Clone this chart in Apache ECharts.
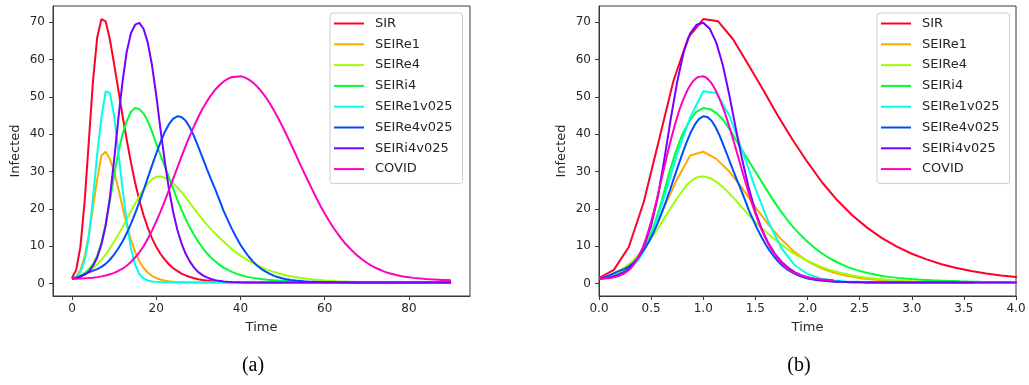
<!DOCTYPE html>
<html>
<head>
<meta charset="utf-8">
<title>Infected over time</title>
<script src="https://cdn.jsdelivr.net/npm/echarts@6/dist/echarts.min.js"></script>
<style>
  html, body { margin: 0; padding: 0; background: #ffffff; }
  #chart { width: 1029px; height: 385px; }
</style>
</head>
<body>
<div id="chart"></div>
<script>
// Daily samples, day 0 .. day 90
const days = Array.from({ length: 91 }, (_, i) => i);

const seriesNames = ['SIR', 'SEIRe1', 'SEIRe4', 'SEIRi4', 'SEIRe1v025', 'SEIRe4v025', 'SEIRi4v025', 'COVID'];
const seriesColors = ['#ff0029', '#ffaa00', '#9dff05', '#00ff32', '#00ffeb', '#004dff', '#7800ff', '#ff00bf'];
// day of each model's peak, used to rescale time in panel (b)
const peakDay = [7, 8, 21, 15, 8, 25, 16, 40];

const sir = [
  1.5, 3.7, 9.8, 21.8, 38, 54.3, 65.9, 70.8, 70.2, 65.4,
  58.8, 52, 45, 38.5, 32.5, 27, 22.3, 18.3, 15, 12.2,
  9.9, 8, 6.5, 5.2, 4.2, 3.4, 2.7, 2.2, 1.8, 1.45,
  1.2, 0.98, 0.82, 0.69, 0.59, 0.51, 0.45, 0.41, 0.38, 0.36,
  0.34, 0.33, 0.32, 0.31, 0.3, 0.3, 0.3, 0.3, 0.3, 0.3,
  0.3, 0.3, 0.3, 0.3, 0.3, 0.3, 0.3, 0.3, 0.3, 0.3,
  0.3, 0.3, 0.3, 0.3, 0.3, 0.3, 0.3, 0.3, 0.3, 0.3,
  0.3, 0.3, 0.3, 0.3, 0.3, 0.3, 0.3, 0.3, 0.3, 0.3,
  0.3, 0.3, 0.3, 0.3, 0.3, 0.3, 0.3, 0.3, 0.3, 0.3,
  0.3
];
const seire1 = [
  1.3, 1.9, 3.6, 7.2, 13, 20.5, 28, 34.3, 35.3, 33.4,
  30, 25.5, 20.5, 15.8, 11.8, 8.5, 6, 4.2, 3, 2.1,
  1.5, 1.1, 0.85, 0.65, 0.52, 0.44, 0.39, 0.36, 0.34, 0.33,
  0.32, 0.31, 0.3, 0.3, 0.3, 0.3, 0.3, 0.3, 0.3, 0.3,
  0.3, 0.3, 0.3, 0.3, 0.3, 0.3, 0.3, 0.3, 0.3, 0.3,
  0.3, 0.3, 0.3, 0.3, 0.3, 0.3, 0.3, 0.3, 0.3, 0.3,
  0.3, 0.3, 0.3, 0.3, 0.3, 0.3, 0.3, 0.3, 0.3, 0.3,
  0.3, 0.3, 0.3, 0.3, 0.3, 0.3, 0.3, 0.3, 0.3, 0.3,
  0.3, 0.3, 0.3, 0.3, 0.3, 0.3, 0.3, 0.3, 0.3, 0.3,
  0.3
];
const seire4 = [
  1.3, 1.6, 2.1, 2.7, 3.4, 4.2, 5.2, 6.4, 7.8, 9.4,
  11.2, 13.1, 15.1, 17.2, 19.3, 21.4, 23.4, 25.2, 26.8, 27.9,
  28.6, 28.7, 28.4, 27.8, 26.9, 25.8, 24.5, 23.1, 21.6, 20.1,
  18.6, 17.2, 15.8, 14.6, 13.4, 12.3, 11.3, 10.2, 9.2, 8.3,
  7.5, 6.8, 6.1, 5.5, 4.9, 4.4, 3.9, 3.5, 3.1, 2.8,
  2.5, 2.2, 2.0, 1.8, 1.6, 1.45, 1.3, 1.17, 1.05, 0.95,
  0.85, 0.78, 0.7, 0.64, 0.59, 0.55, 0.51, 0.48, 0.45, 0.42,
  0.4, 0.38, 0.37, 0.36, 0.35, 0.34, 0.33, 0.33, 0.32, 0.32,
  0.31, 0.31, 0.31, 0.3, 0.3, 0.3, 0.3, 0.3, 0.3, 0.3,
  0.3
];
const seiri4 = [
  1.3, 1.6, 2.1, 2.8, 3.8, 5.2, 7.5, 11, 16, 22,
  29, 35, 40, 43.5, 46, 47, 46.7, 45.5, 43.5, 40.7,
  37.5, 34.5, 31.5, 28.5, 25.5, 22.5, 19.8, 17.3, 15, 13,
  11.2, 9.6, 8.2, 7, 6, 5.1, 4.3, 3.7, 3.15, 2.7,
  2.3, 2.0, 1.75, 1.55, 1.38, 1.23, 1.1, 1.0, 0.9, 0.82,
  0.75, 0.69, 0.63, 0.58, 0.54, 0.5, 0.47, 0.45, 0.43, 0.41,
  0.39, 0.38, 0.37, 0.36, 0.35, 0.34, 0.33, 0.32, 0.32, 0.31,
  0.31, 0.31, 0.3, 0.3, 0.3, 0.3, 0.3, 0.3, 0.3, 0.3,
  0.3, 0.3, 0.3, 0.3, 0.3, 0.3, 0.3, 0.3, 0.3, 0.3,
  0.3
];
const seire1v025 = [
  1.3, 1.8, 3.1, 6.2, 12.5, 23.1, 34.7, 44.5, 51.5, 51,
  45, 35.5, 25.5, 16.5, 9.5, 5, 2.6, 1.4, 0.85, 0.6,
  0.48, 0.42, 0.38, 0.36, 0.35, 0.34, 0.33, 0.32, 0.31, 0.3,
  0.3, 0.3, 0.3, 0.3, 0.3, 0.3, 0.3, 0.3, 0.3, 0.3,
  0.3, 0.3, 0.3, 0.3, 0.3, 0.3, 0.3, 0.3, 0.3, 0.3,
  0.3, 0.3, 0.3, 0.3, 0.3, 0.3, 0.3, 0.3, 0.3, 0.3,
  0.3, 0.3, 0.3, 0.3, 0.3, 0.3, 0.3, 0.3, 0.3, 0.3,
  0.3, 0.3, 0.3, 0.3, 0.3, 0.3, 0.3, 0.3, 0.3, 0.3,
  0.3, 0.3, 0.3, 0.3, 0.3, 0.3, 0.3, 0.3, 0.3, 0.3,
  0.3
];
const seire4v025 = [
  1.3, 1.6, 2.0, 2.5, 3.0, 3.5, 3.9, 4.5, 5.3, 6.4,
  7.8, 9.4, 11.3, 13.5, 16, 18.8, 21.8, 25, 28.3, 31.6,
  34.8, 37.8, 40.5, 42.6, 44.1, 44.8, 44.6, 43.6, 41.8, 39.4,
  36.6, 33.7, 30.8, 28, 25.3, 22.4, 19.5, 17, 14.6, 12.4,
  10.4, 8.7, 7.2, 5.9, 4.8, 3.9, 3.2, 2.6, 2.1, 1.7,
  1.4, 1.17, 0.99, 0.86, 0.76, 0.67, 0.6, 0.54, 0.49, 0.45,
  0.41, 0.39, 0.37, 0.35, 0.34, 0.33, 0.32, 0.31, 0.3, 0.3,
  0.3, 0.3, 0.3, 0.3, 0.3, 0.3, 0.3, 0.3, 0.3, 0.3,
  0.3, 0.3, 0.3, 0.3, 0.3, 0.3, 0.3, 0.3, 0.3, 0.3,
  0.3
];
const seiri4v025 = [
  1.3, 1.5, 1.8, 2.4, 3.2, 4.8, 7, 10.5, 15.5, 23,
  33, 44, 54, 62, 67, 69.3, 69.8, 68.2, 64.5, 58.5,
  50.5, 41.5, 33, 25.5, 19.3, 14.5, 10.8, 8, 5.9, 4.3,
  3.1, 2.3, 1.7, 1.25, 0.95, 0.75, 0.6, 0.5, 0.43, 0.39,
  0.36, 0.34, 0.33, 0.32, 0.31, 0.3, 0.3, 0.3, 0.3, 0.3,
  0.3, 0.3, 0.3, 0.3, 0.3, 0.3, 0.3, 0.3, 0.3, 0.3,
  0.3, 0.3, 0.3, 0.3, 0.3, 0.3, 0.3, 0.3, 0.3, 0.3,
  0.3, 0.3, 0.3, 0.3, 0.3, 0.3, 0.3, 0.3, 0.3, 0.3,
  0.3, 0.3, 0.3, 0.3, 0.3, 0.3, 0.3, 0.3, 0.3, 0.3,
  0.3
];
const covid = [
  1.3, 1.32, 1.36, 1.42, 1.5, 1.6, 1.75, 1.95, 2.2, 2.5,
  2.9, 3.4, 4.0, 4.8, 5.8, 7.0, 8.4, 10.0, 12.0, 14.2,
  16.6, 19.2, 22, 25, 28, 31, 34, 36.9, 39.6, 42.2,
  44.6, 46.8, 48.7, 50.4, 51.9, 53.1, 54.1, 54.8, 55.3, 55.4,
  55.5, 55.2, 54.6, 53.8, 52.7, 51.4, 49.9, 48.2, 46.3, 44.2,
  42, 39.7, 37.3, 34.9, 32.4, 30, 27.6, 25.3, 23, 20.8,
  18.8, 16.9, 15.1, 13.5, 12, 10.6, 9.4, 8.3, 7.3, 6.4,
  5.6, 4.9, 4.3, 3.8, 3.3, 2.9, 2.6, 2.3, 2.05, 1.85,
  1.7, 1.55, 1.45, 1.35, 1.25, 1.18, 1.12, 1.06, 1.0, 0.96,
  0.92
];

const seriesValues = [sir, seire1, seire4, seiri4, seire1v025, seire4v025, seiri4v025, covid];

// Tick labels
const xTicksDays = [0, 20, 40, 60, 80];
const yTicks = [0, 10, 20, 30, 40, 50, 60, 70];

const FONT = 'DejaVu Sans';
const INK = '#262626';
const FRAME = '#3a3a3a';

function axisBase() {
  return {
    type: 'value',
    axisLine: { show: true, onZero: false, lineStyle: { color: FRAME, width: 1 } },
    axisTick: { show: true, inside: false, length: 4, lineStyle: { color: FRAME, width: 1 } },
    axisLabel: { color: INK, fontSize: 12, fontFamily: FONT },
    splitLine: { show: false },
    nameTextStyle: { color: INK, fontSize: 13, fontFamily: FONT }
  };
}

function makeX(gridIndex, extra) {
  const a = axisBase();
  a.gridIndex = gridIndex;
  a.position = 'bottom';
  a.name = 'Time';
  a.nameLocation = 'middle';
  a.nameGap = 25;
  a.axisLabel.margin = 7;
  return Object.assign(a, extra);
}

function makeY(gridIndex) {
  const a = axisBase();
  a.gridIndex = gridIndex;
  a.position = 'left';
  a.min = -3.3;
  a.max = 74.3;
  a.name = 'Infected';
  a.nameLocation = 'middle';
  a.nameGap = 31;
  a.axisLabel.margin = 8;
  a.axisLabel.customValues = yTicks;
  a.axisTick.customValues = yTicks;
  return a;
}

const xA = makeX(0, { min: -4.5, max: 94.5 });
xA.axisLabel.customValues = xTicksDays;
xA.axisTick.customValues = xTicksDays;

const xB = makeX(1, { min: 0, max: 4, interval: 0.5 });
xB.axisLabel.formatter = v => v.toFixed(1);

function legendFor(left) {
  return {
    orient: 'vertical',
    left: left,
    top: 13,
    align: 'left',
    icon: 'rect',
    itemWidth: 30,
    itemHeight: 2,
    itemGap: 5.8,
    padding: [3, 10, 7, 4],
    backgroundColor: 'rgba(255,255,255,0.8)',
    borderColor: '#cccccc',
    borderWidth: 1,
    borderRadius: 3,
    textStyle: { color: INK, fontSize: 13, fontFamily: FONT, lineHeight: 15, padding: [0, 0, 0, 6] },
    data: seriesNames
  };
}

const series = [];
seriesValues.forEach((vals, i) => {
  const common = {
    type: 'line',
    name: seriesNames[i],
    symbol: 'none',
    showSymbol: false,
    clip: true,
    color: seriesColors[i],
    lineStyle: { width: 2, color: seriesColors[i] },
    emphasis: { disabled: true }
  };
  series.push(Object.assign({}, common, {
    xAxisIndex: 0, yAxisIndex: 0,
    data: vals.map((v, t) => [days[t], v])
  }));
  series.push(Object.assign({}, common, {
    xAxisIndex: 1, yAxisIndex: 1,
    data: vals.map((v, t) => [days[t] / peakDay[i], v])
  }));
});

const chart = echarts.init(document.getElementById('chart'), null, { renderer: 'canvas' });
chart.setOption({
  animation: false,
  backgroundColor: '#ffffff',
  grid: [
    { left: 53, top: 6, width: 417, height: 290, show: true, borderColor: FRAME, borderWidth: 1, backgroundColor: 'transparent' },
    { left: 599, top: 6, width: 417, height: 290, show: true, borderColor: FRAME, borderWidth: 1, backgroundColor: 'transparent' }
  ],
  xAxis: [xA, xB],
  yAxis: [makeY(0), makeY(1)],
  legend: [legendFor(330), legendFor(877)],
  series: series,
  graphic: [
    { type: 'text', x: 253, y: 366, style: { text: '(a)', font: '20px "Liberation Serif"', fill: '#000', align: 'center', verticalAlign: 'middle' } },
    { type: 'text', x: 799, y: 366, style: { text: '(b)', font: '20px "Liberation Serif"', fill: '#000', align: 'center', verticalAlign: 'middle' } }
  ]
});
</script>
</body>
</html>
